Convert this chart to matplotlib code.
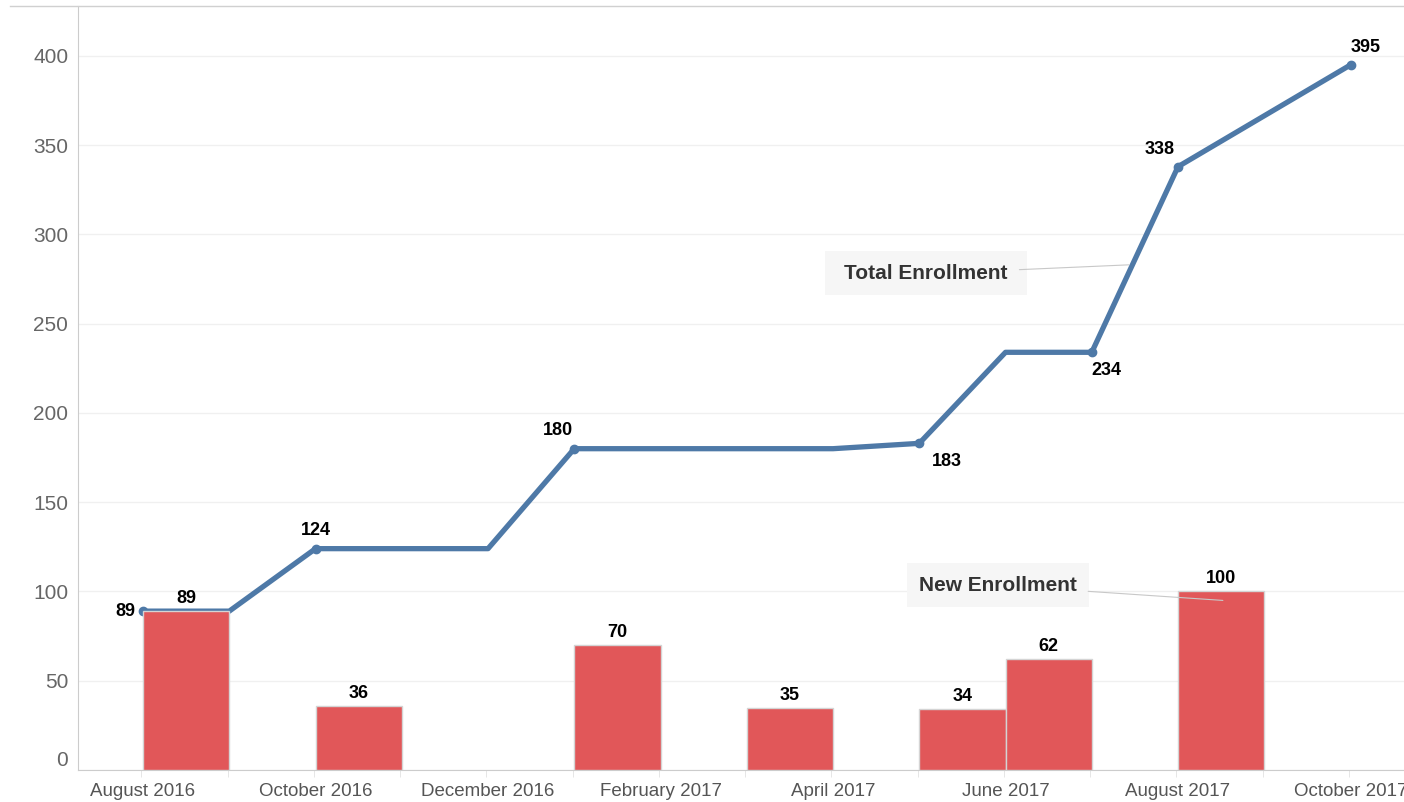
import matplotlib
matplotlib.use("Agg")
import matplotlib.pyplot as plt
from matplotlib.lines import Line2D
from matplotlib.patches import Rectangle

plt.rcParams["font.family"] = ["Liberation Sans", "DejaVu Sans"]

# month index 0 = August 2016 ... 14 = October 2017
tick_months = [0, 2, 4, 6, 8, 10, 12, 14]
tick_labels = ["August 2016", "October 2016", "December 2016", "February 2017",
               "April 2017", "June 2017", "August 2017", "October 2017"]

total_months = [0, 1, 2, 3, 4, 5, 6, 7, 8, 9, 10, 11, 12, 14]
total_values = [89, 89, 124, 124, 124, 180, 180, 180, 180, 183, 234, 234, 338, 395]

# labelled points on the total line and their label offsets (pixels)
marked_months = [0, 2, 5, 9, 11, 12, 14]
marked_values = [89, 124, 180, 183, 234, 338, 395]
marked_offsets = [(-8, 0, "right", "center"), (0, 10, "center", "bottom"),
                  (-16, 10, "center", "bottom"), (28, -10, "center", "top"),
                  (15, -10, "center", "top"), (-18, 9, "center", "bottom"),
                  (15, 9, "center", "bottom")]

new_months = [0, 2, 5, 7, 9, 10, 12]
new_values = [89, 36, 70, 35, 34, 62, 100]

LINE_COLOR = "#4e79a7"
BAR_COLOR = "#e15759"
W, H = 1404, 802

fig = plt.figure(figsize=(W / 100, H / 100), dpi=100)
ax = fig.add_axes([78 / W, 32 / H, 1326 / W, 764 / H])

ax.bar(new_months, new_values, width=1.0, align="edge", color=BAR_COLOR,
       edgecolor="#d4d4d4", linewidth=1.0, zorder=3)
for m, v in zip(new_months, new_values):
    ax.annotate(str(v), (m + 0.5, v), xytext=(0, 4), textcoords="offset pixels",
                ha="center", va="bottom", fontsize=13, fontweight="bold",
                color="black", zorder=5)

ax.plot(total_months, total_values, color=LINE_COLOR, linewidth=3.8,
        solid_joinstyle="round", solid_capstyle="round", zorder=2)
ax.plot(marked_months, marked_values, "o", color=LINE_COLOR, markersize=6, zorder=2)
for m, v, (dx, dy, ha, va) in zip(marked_months, marked_values, marked_offsets):
    ax.annotate(str(v), (m, v), xytext=(dx, dy), textcoords="offset pixels",
                ha=ha, va=va, fontsize=13, fontweight="bold", color="black", zorder=5)

# caption boxes (pixel rectangles) with leader lines to the series
for x0, y0, bw, bh in [(825, 251, 202, 44), (907, 563, 182, 44)]:
    ax.add_patch(Rectangle((x0, H - y0 - bh), bw, bh, transform=None,
                           facecolor="#f6f6f6", edgecolor="none", zorder=4))
leader = dict(arrowstyle="-", color="#c8c8c8", lw=0.8, shrinkA=0, shrinkB=0)
ghost = dict(boxstyle="square,pad=0.55", facecolor="none", edgecolor="none")
ax.annotate("Total Enrollment", xy=(11.43, 283), xytext=(9.08, 278),
            ha="center", va="center", fontsize=15, fontweight="bold", color="#333333",
            bbox=ghost, arrowprops=leader, zorder=6)
ax.annotate("New Enrollment", xy=(12.52, 95), xytext=(9.91, 103.5),
            ha="center", va="center", fontsize=15, fontweight="bold", color="#333333",
            bbox=ghost, arrowprops=leader, zorder=6)

ax.set_xlim(-0.754, 14.62)
ax.set_ylim(0, 428)

ax.set_xticks(tick_months)
ax.set_xticklabels(tick_labels, fontsize=13.5, color="#555555", va="baseline")
ax.set_xticks([m - 0.02 for m in range(0, 15)], minor=True)
ax.tick_params(axis="x", which="major", length=0, pad=19)
ax.tick_params(axis="x", which="minor", length=5, color="#e2e2e2")

yticks = [0, 50, 100, 150, 200, 250, 300, 350, 400]
ax.set_yticks(yticks)
ax.set_yticklabels([str(t) for t in yticks], fontsize=15, color="#666666")
ax.tick_params(axis="y", length=0, pad=7)
ax.get_yticklabels()[0].set_va("bottom")

ax.grid(axis="y", color="#f0f0f0", linewidth=1.0)
ax.set_axisbelow(True)
for side in ["top", "right"]:
    ax.spines[side].set_visible(False)
ax.spines["left"].set_color("#cccccc")
ax.spines["bottom"].set_color("#cccccc")

fig.add_artist(Line2D([10 / W, 1.0], [1 - 6 / H, 1 - 6 / H],
                      color="#d0d0d0", linewidth=1.0, transform=fig.transFigure))

fig.savefig("out.png", dpi=100)
